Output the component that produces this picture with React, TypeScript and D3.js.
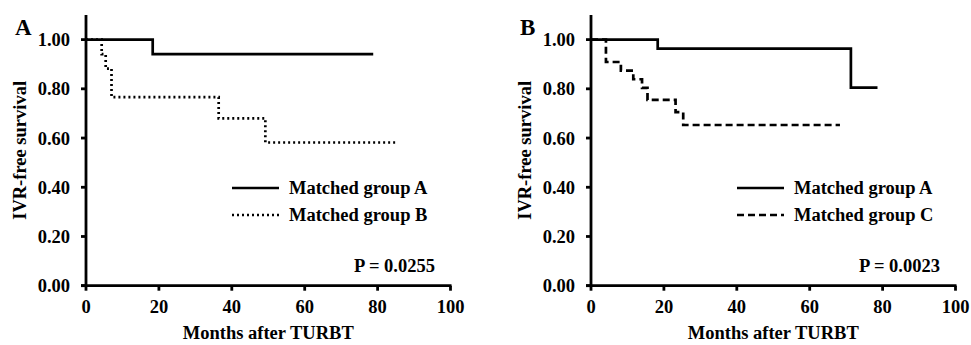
import React from 'react';
import * as d3 from 'd3';

// Kaplan-Meier steps: [months, survival]
const panelAGroupA: [number, number][] = [[0, 1.0], [18.3, 0.941]];
const panelAGroupAEnd = 78.8;
const panelAGroupB: [number, number][] = [
  [0, 1.0],
  [4.3, 0.941],
  [5.4, 0.882],
  [7.0, 0.766],
  [36.4, 0.68],
  [49.2, 0.582],
];
const panelAGroupBEnd = 85.2;

const panelBGroupA: [number, number][] = [[0, 1.0], [18.3, 0.963], [71.3, 0.805]];
const panelBGroupAEnd = 78.6;
const panelBGroupC: [number, number][] = [
  [0, 1.0],
  [4.1, 0.909],
  [8.2, 0.874],
  [11.6, 0.839],
  [14.0, 0.804],
  [15.5, 0.755],
  [23.2, 0.705],
  [25.3, 0.653],
];
const panelBGroupCEnd = 68.3;

const xTicks = [0, 20, 40, 60, 80, 100];
const yTicks = [0, 0.2, 0.4, 0.6, 0.8, 1.0];

const FONT = '"Liberation Serif", "Times New Roman", serif';
const FS = 18.5;

interface Series {
  name: string;
  steps: [number, number][];
  end: number;
  dash: string | undefined;
}

interface PanelProps {
  letter: string;
  left: number;
  series: Series[];
  pValue: string;
}

const top = 15;
const bottom = 285.7;
const plotW = 364.5;

const Panel: React.FC<PanelProps> = ({ letter, left, series, pValue }) => {
  const x = d3.scaleLinear().domain([0, 100]).range([left, left + plotW]);
  const y = d3.scaleLinear().domain([0, 1.1]).range([bottom, top]);
  const line = d3
    .line<[number, number]>()
    .x(d => x(d[0]))
    .y(d => y(d[1]))
    .curve(d3.curveStepAfter);
  const fmt = d3.format('.2f');

  return (
    <g fontFamily={FONT} fontWeight="bold" fill="#000">
      <text x={left - 71} y={35} fontSize={23}>
        {letter}
      </text>

      {/* curves */}
      {series.map(s => {
        const last = s.steps[s.steps.length - 1];
        const pts: [number, number][] = [...s.steps, [s.end, last[1]]];
        return (
          <path
            key={s.name}
            d={line(pts) || ''}
            fill="none"
            stroke="#000"
            strokeWidth={2.7}
            strokeDasharray={s.dash}
          />
        );
      })}

      {/* axes */}
      <line x1={x(0)} x2={x(0)} y1={top} y2={bottom} stroke="#000" strokeWidth={2.8} />
      <line x1={x(0) - 5} x2={x(100) + 1} y1={bottom} y2={bottom} stroke="#000" strokeWidth={2.8} />
      {yTicks.map(t => (
        <g key={t}>
          <line x1={x(0) - 5} x2={x(0)} y1={y(t)} y2={y(t)} stroke="#000" strokeWidth={2.8} />
          <text x={x(0) - 16} y={y(t) + 6.5} textAnchor="end" fontSize={FS}>
            {fmt(t)}
          </text>
        </g>
      ))}
      {xTicks.map(t => (
        <g key={t}>
          <line x1={x(t)} x2={x(t)} y1={bottom} y2={bottom + 5} stroke="#000" strokeWidth={2.8} />
          <text x={x(t)} y={313} textAnchor="middle" fontSize={FS}>
            {t}
          </text>
        </g>
      ))}
      <text x={x(50)} y={339} textAnchor="middle" fontSize={FS}>
        Months after TURBT
      </text>
      <text
        transform={`translate(${left - 60},${(top + bottom) / 2}) rotate(-90)`}
        textAnchor="middle"
        fontSize={FS}
      >
        IVR-free survival
      </text>

      {/* legend */}
      {series.map((s, i) => (
        <g key={s.name}>
          <line
            x1={left + 146}
            x2={left + 193}
            y1={188 + i * 27}
            y2={188 + i * 27}
            stroke="#000"
            strokeWidth={2.7}
            strokeDasharray={s.dash}
          />
          <text x={left + 203} y={194 + i * 27} fontSize={FS}>
            {s.name}
          </text>
        </g>
      ))}

      <text x={left + 349} y={272} textAnchor="end" fontSize={FS}>
        {pValue}
      </text>
    </g>
  );
};

export default function App() {
  const seriesA: Series[] = [
    { name: 'Matched group A', steps: panelAGroupA, end: panelAGroupAEnd, dash: undefined },
    { name: 'Matched group B', steps: panelAGroupB, end: panelAGroupBEnd, dash: '2 3' },
  ];
  const seriesB: Series[] = [
    { name: 'Matched group A', steps: panelBGroupA, end: panelBGroupAEnd, dash: undefined },
    { name: 'Matched group C', steps: panelBGroupC, end: panelBGroupCEnd, dash: '7 4' },
  ];
  return (
    <div style={{ position: 'absolute', left: 0, top: 0 }}>
      <svg width={971} height={345} style={{ display: 'block', background: '#fff' }}>
        <Panel letter="A" left={86} series={seriesA} pValue="P = 0.0255" />
        <Panel letter="B" left={591} series={seriesB} pValue="P = 0.0023" />
      </svg>
    </div>
  );
}
